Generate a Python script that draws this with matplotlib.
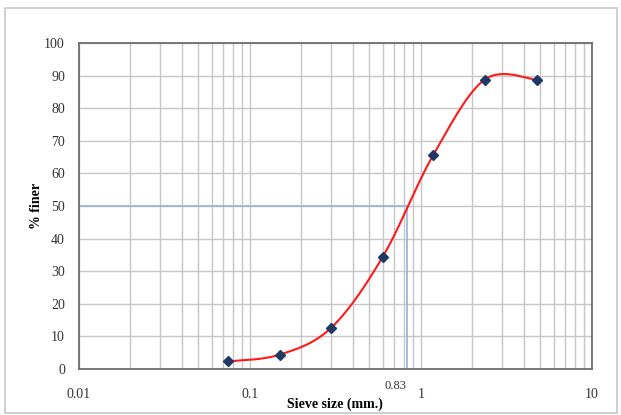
import numpy as np
import matplotlib.pyplot as plt
from matplotlib.patches import Rectangle

#
# --- Sieve analysis data
#
sieve_mm = [0.075, 0.15, 0.3, 0.6, 1.18, 2.36, 4.75]
pct_finer = [2.3, 4.4, 12.7, 34.5, 65.6, 88.8, 88.8]
d50 = 0.83
x_ticks = [0.01, 0.1, 1, 10]
x_tick_labels = ["0.01", "0.1", "1", "10"]
y_ticks = list(range(0, 101, 10))

SERIF = ["Liberation Serif", "DejaVu Serif"]


def smooth_curve(xs, ys, n=40):
    """Excel-style smoothed line: cubic Bezier with Catmull-Rom control points in log-x space."""
    u = np.log10(xs)
    v = np.asarray(ys, dtype=float)
    pts = np.column_stack([u, v])
    pts = np.vstack([pts[0], pts, pts[-1]])
    out = []
    t = np.linspace(0, 1, n)[:, None]
    for i in range(1, len(pts) - 2):
        p0, p1, p2, p3 = pts[i - 1], pts[i], pts[i + 1], pts[i + 2]
        c1 = p1 + (p2 - p0) / 6.0
        c2 = p2 - (p3 - p1) / 6.0
        seg = ((1 - t) ** 3) * p1 + 3 * ((1 - t) ** 2) * t * c1 + 3 * (1 - t) * t ** 2 * c2 + t ** 3 * p2
        out.append(seg)
    curve = np.vstack(out)
    return 10 ** curve[:, 0], curve[:, 1]


fig = plt.figure(figsize=(6.21, 4.15), dpi=100)
fig.patches.append(Rectangle((0.008, 0.005), 0.985, 0.975, transform=fig.transFigure,
                             fill=False, edgecolor="#c8c8c8", lw=1.2))
ax = fig.add_axes([0.127, 0.111, 0.826, 0.785])

ax.set_xscale("log")
ax.set_xlim(0.01, 10)
ax.set_ylim(0, 100)

#
# --- Grid
#
ax.grid(which="major", color="#c6c6c6", lw=1.0)
ax.grid(which="minor", axis="x", color="#c6c6c6", lw=1.0)
ax.set_axisbelow(True)

#
# --- D50 indicator lines
#
ax.plot([0.01, d50], [50, 50], color="#95b3d7", lw=1.2)
ax.plot([d50, d50], [0, 50], color="#95b3d7", lw=1.2)

#
# --- Gradation curve
#
cx, cy = smooth_curve(sieve_mm, pct_finer)
ax.plot(cx, cy, color="#ff1a1a", lw=1.5)
ax.plot(sieve_mm, pct_finer, linestyle="", marker="D", markersize=5.5, color="#1f3864")

#
# --- Axes styling
#
for s in ax.spines.values():
    s.set_color("#6e6e6e")
    s.set_linewidth(1.3)
ax.tick_params(which="both", length=0)
ax.set_xticks(x_ticks)
ax.set_xticklabels(x_tick_labels, family=SERIF, fontsize=10, color="#333333")
ax.tick_params(axis="x", pad=14)
ax.set_yticks(y_ticks)
ax.set_yticklabels([str(v) for v in y_ticks], family=SERIF, fontsize=10, color="#333333")
ax.tick_params(axis="y", pad=10)
ax.text(d50, -3.5, "0.83", ha="right", va="top", family=SERIF, fontsize=9,
        color="#333333", transform=ax.transData)
ax.set_xlabel("Sieve size (mm.)", family=SERIF, fontsize=10, fontweight="bold", labelpad=-3)
ax.set_ylabel("% finer", family=SERIF, fontsize=10, fontweight="bold", labelpad=1)

fig.savefig("out.png", dpi=100)
